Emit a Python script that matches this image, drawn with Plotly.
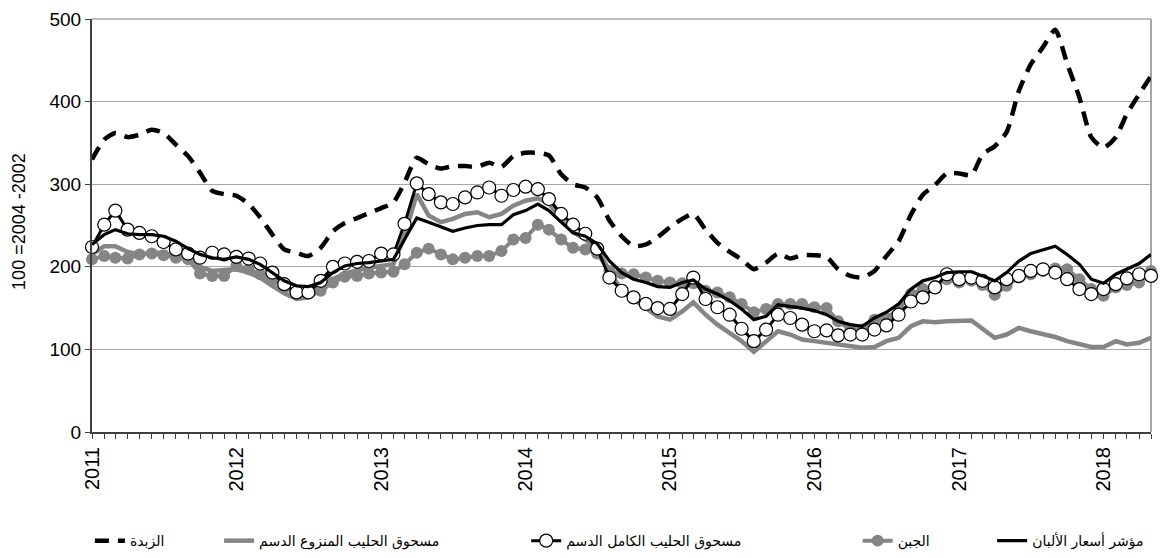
import pandas as pd
import plotly.graph_objects as go

months = pd.date_range("2011-01-01", periods=89, freq="MS")
year_ticks = [f"{y}-01-01" for y in range(2011, 2019)]
year_labels = [str(y) for y in range(2011, 2019)]
y_ticks = [0, 100, 200, 300, 400, 500]

names = {
    "butter": "الزبدة",
    "smp": "مسحوق الحليب المنزوع الدسم",
    "wmp": "مسحوق الحليب الكامل الدسم",
    "cheese": "الجبن",
    "index": "مؤشر أسعار الألبان",
}
y_title = "100 =2004 -2002"

butter = [330, 354, 362, 357, 360, 366, 362, 348, 334, 314, 292, 288, 286, 276, 260, 239, 221, 217, 213, 223,
          243, 253, 259, 265, 271, 278, 302, 332, 324, 319, 322, 322, 321, 326, 321, 334, 338, 338, 335, 312,
          300, 296, 284, 256, 237, 225, 227, 236, 248, 258, 264, 245, 229, 218, 209, 197, 205, 216, 210, 214,
          214, 212, 197, 189, 187, 195, 213, 231, 263, 287, 299, 313, 313, 311, 336, 346, 363, 413, 445, 466,
          487, 446, 405, 357, 344, 357, 385, 409, 431]
smp = [215, 225, 225, 218, 215, 217, 217, 213, 208, 200, 195, 196, 197, 193, 187, 177, 168, 161, 163, 172,
       185, 192, 196, 199, 201, 203, 238, 288, 262, 254, 258, 264, 266, 260, 264, 274, 280, 283, 277, 258,
       242, 233, 222, 195, 171, 161, 151, 140, 136, 146, 157, 142, 130, 120, 110, 97, 110, 122, 118, 112,
       110, 108, 106, 103, 102, 103, 110, 114, 128, 134, 133, 134, 135, 135, 125, 114, 118, 126, 122, 119,
       115, 110, 106, 103, 103, 110, 106, 108, 114]
wmp = [224, 251, 268, 245, 241, 237, 230, 221, 216, 211, 217, 215, 212, 210, 204, 193, 179, 169, 169, 183,
       200, 204, 206, 207, 216, 215, 252, 301, 288, 278, 276, 284, 290, 296, 286, 293, 297, 294, 282, 264,
       251, 240, 222, 187, 171, 163, 155, 150, 149, 167, 187, 161, 151, 142, 125, 110, 124, 142, 138, 130,
       122, 123, 117, 118, 118, 124, 129, 142, 158, 163, 175, 191, 185, 187, 183, 175, 185, 189, 195, 197,
       193, 185, 173, 167, 173, 179, 186, 191, 189]
cheese = [209, 213, 211, 210, 215, 216, 214, 211, 209, 192, 189, 189, 201, 197, 191, 183, 175, 167, 169, 171,
          181, 188, 189, 192, 193, 194, 203, 217, 222, 215, 209, 211, 213, 213, 219, 233, 235, 251, 245, 233,
          223, 221, 216, 195, 192, 191, 187, 183, 181, 180, 180, 171, 169, 163, 155, 145, 149, 155, 155, 155,
          151, 150, 134, 124, 124, 136, 138, 149, 167, 173, 177, 185, 181, 183, 178, 166, 177, 187, 191, 195,
          198, 197, 185, 173, 165, 175, 178, 181, 195]
dairy_index = [227, 239, 245, 240, 239, 239, 237, 231, 222, 215, 211, 209, 212, 209, 203, 193, 183, 177, 176, 181,
               193, 201, 204, 205, 207, 209, 233, 259, 254, 248, 243, 247, 250, 251, 251, 263, 268, 276, 268, 254,
               241, 237, 228, 207, 193, 185, 181, 176, 175, 181, 184, 173, 167, 159, 149, 136, 140, 154, 152, 150,
               147, 142, 134, 130, 128, 138, 145, 155, 173, 183, 187, 193, 194, 194, 189, 183, 193, 207, 216, 220,
               225, 215, 203, 185, 180, 191, 197, 204, 215]

GRAY = "#858585"
fig = go.Figure()

fig.add_trace(go.Scatter(x=months, y=cheese, name=names["cheese"], mode="lines+markers",
                         line=dict(color=GRAY, width=4),
                         marker=dict(color=GRAY, size=12, line=dict(width=0)),
                         cliponaxis=False, legend="legend4"))
fig.add_trace(go.Scatter(x=months, y=smp, name=names["smp"], mode="lines",
                         line=dict(color=GRAY, width=4.5),
                         cliponaxis=False, legend="legend2"))
fig.add_trace(go.Scatter(x=months, y=wmp, name=names["wmp"], mode="lines+markers",
                         line=dict(color="black", width=3),
                         marker=dict(color="white", size=13, line=dict(color="black", width=1.2)),
                         cliponaxis=False, legend="legend3"))
fig.add_trace(go.Scatter(x=months, y=dairy_index, name=names["index"], mode="lines",
                         line=dict(color="black", width=3.2),
                         cliponaxis=False, legend="legend5"))
fig.add_trace(go.Scatter(x=months, y=butter, name=names["butter"], mode="lines",
                         line=dict(color="black", width=4.5, dash="14px,9px", shape="spline", smoothing=0.6),
                         cliponaxis=False, legend="legend"))

leg_font = dict(family="DejaVu Sans", size=14, color="black")
def leg(x):
    return dict(x=x, y=-0.264, xanchor="left", yanchor="middle", orientation="h",
                font=leg_font, bgcolor="rgba(0,0,0,0)")

fig.update_layout(
    width=1172, height=558, autosize=False,
    margin=dict(l=84, r=29, t=11, b=134, autoexpand=False),
    paper_bgcolor="white", plot_bgcolor="white",
    font=dict(family="Liberation Sans, Arial", size=19, color="black"),
    showlegend=True,
    legend=leg(-0.002),
    legend2=leg(0.12),
    legend3=leg(0.41),
    legend4=leg(0.723),
    legend5=leg(0.85),
    xaxis=dict(
        type="date",
        range=["2011-01-01", "2018-05-01"],
        tickmode="array", tickvals=year_ticks, ticktext=year_labels,
        tickangle=-90, ticks="outside", ticklen=5, tickcolor="#404040",
        tickfont=dict(size=20), ticklabeloverflow="allow",
        minor=dict(dtick="M1", tick0="2011-01-01", ticks="outside", ticklen=5, tickcolor="#404040", showgrid=False),
        showgrid=False, showline=True, linecolor="#404040", linewidth=2,
        zeroline=False,
    ),
    yaxis=dict(
        range=[0, 500], tickmode="array", tickvals=y_ticks,
        ticks="outside", ticklen=5, tickcolor="#404040",
        tickfont=dict(size=19), ticklabeloverflow="allow",
        showgrid=True, gridcolor="#a6a6a6", gridwidth=1,
        showline=True, linecolor="#404040", linewidth=2,
        zeroline=False,
    ),
    annotations=[dict(text=y_title, xref="paper", yref="paper", x=-0.069, y=0.511,
                      xanchor="center", yanchor="middle", textangle=-90, showarrow=False,
                      font=dict(size=18, family="Liberation Sans, Arial"))],
    shapes=[dict(type="line", xref="paper", yref="paper", x0=1, x1=1, y0=0, y1=1,
                 line=dict(color="#a6a6a6", width=2), layer="below"),
            dict(type="line", xref="paper", yref="paper", x0=0, x1=1, y0=1, y1=1,
                 line=dict(color="#a6a6a6", width=1.5), layer="below")],
)

fig.write_html("out.html")
